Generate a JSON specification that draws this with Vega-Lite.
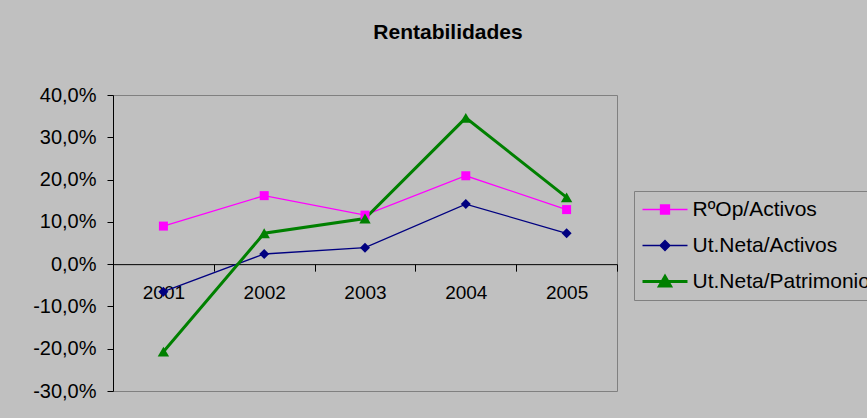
{
  "$schema": "https://vega.github.io/schema/vega-lite/v6.json",
  "autosize": "none",
  "width": 504,
  "height": 296,
  "padding": {"left": 113, "top": 95, "right": 250, "bottom": 27},
  "background": "#c0c0c0",
  "title": {
    "text": "Rentabilidades",
    "font": "Liberation Sans",
    "fontSize": 21,
    "fontWeight": "bold",
    "color": "#000000",
    "anchor": "middle",
    "frame": "group",
    "dx": 83,
    "baseline": "alphabetic",
    "offset": 25
  },
  "data": {
    "values": [
      {"year": "2001", "serie": "RºOp/Activos", "value": 0.090},
      {"year": "2002", "serie": "RºOp/Activos", "value": 0.162},
      {"year": "2003", "serie": "RºOp/Activos", "value": 0.116},
      {"year": "2004", "serie": "RºOp/Activos", "value": 0.209},
      {"year": "2005", "serie": "RºOp/Activos", "value": 0.129},
      {"year": "2001", "serie": "Ut.Neta/Activos", "value": -0.065},
      {"year": "2002", "serie": "Ut.Neta/Activos", "value": 0.024},
      {"year": "2003", "serie": "Ut.Neta/Activos", "value": 0.039},
      {"year": "2004", "serie": "Ut.Neta/Activos", "value": 0.142},
      {"year": "2005", "serie": "Ut.Neta/Activos", "value": 0.073},
      {"year": "2001", "serie": "Ut.Neta/Patrimonio", "value": -0.207},
      {"year": "2002", "serie": "Ut.Neta/Patrimonio", "value": 0.073},
      {"year": "2003", "serie": "Ut.Neta/Patrimonio", "value": 0.108},
      {"year": "2004", "serie": "Ut.Neta/Patrimonio", "value": 0.346},
      {"year": "2005", "serie": "Ut.Neta/Patrimonio", "value": 0.158}
    ]
  },
  "encoding": {
    "x": {
      "field": "year",
      "type": "ordinal",
      "scale": {"type": "band", "paddingInner": 0, "paddingOuter": 0},
      "axis": {
        "title": null,
        "orient": "bottom",
        "offset": -126.857,
        "domainColor": "#000000",
        "domainWidth": 1,
        "tickColor": "#000000",
        "tickSize": 7,
        "tickBand": "extent",
        "labelAngle": 0,
        "labelPadding": 12,
        "labelFont": "Liberation Sans",
        "labelFontSize": 19,
        "labelColor": "#000000",
        "grid": false
      }
    },
    "y": {
      "field": "value",
      "type": "quantitative",
      "scale": {"domain": [-0.3, 0.4], "nice": false, "zero": false},
      "axis": {
        "title": null,
        "values": [-0.3, -0.2, -0.1, 0, 0.1, 0.2, 0.3, 0.4],
        "labelExpr": "replace(replace(format(datum.value, '.1%'), '.', ','), '\u2212', '-')",
        "domainColor": "#000000",
        "tickColor": "#000000",
        "tickSize": 6,
        "labelPadding": 11,
        "labelFont": "Liberation Sans",
        "labelFontSize": 20,
        "labelColor": "#000000",
        "grid": false
      }
    },
    "color": {
      "field": "serie",
      "type": "nominal",
      "scale": {
        "domain": ["RºOp/Activos", "Ut.Neta/Activos", "Ut.Neta/Patrimonio"],
        "range": ["#FF00FF", "#000080", "#008000"]
      },
      "legend": {
        "title": null,
        "orient": "none",
        "legendX": 521,
        "legendY": 96,
        "padding": 8,
        "strokeColor": "#808080",
        "fillColor": "#c0c0c0",
        "cornerRadius": 0,
        "labelFont": "Liberation Sans",
        "labelFontSize": 21,
        "labelColor": "#000000",
        "labelLimit": 400,
        "symbolSize": 400,
        "symbolOffset": 12.5,
        "labelOffset": 17,
        "rowPadding": 14,
        "encode": {
          "symbols": {
            "update": {
              "shape": {"signal": "datum.value == 'RºOp/Activos' ? 'M-2.25,0H2.25M-0.45,-0.45H0.45V0.45H-0.45Z' : datum.value == 'Ut.Neta/Activos' ? 'M-2.25,0H2.25M0,-0.5L0.5,0L0,0.5L-0.5,0Z' : 'M-2.25,0H2.25M0,-0.5L0.55,0.45H-0.55Z'"},
              "size": {"value": 400},
              "fill": {"scale": "color", "field": "value"},
              "stroke": {"scale": "color", "field": "value"},
              "strokeWidth": {"signal": "datum.value == 'Ut.Neta/Patrimonio' ? 3 : 1.3"},
              "opacity": {"value": 1},
              "fillOpacity": {"value": 1},
              "strokeOpacity": {"value": 1}
            }
          }
        }
      }
    }
  },
  "layer": [
    {
      "transform": [{"filter": "datum.serie != 'Ut.Neta/Patrimonio'"}],
      "mark": {"type": "line", "strokeWidth": 1.3}
    },
    {
      "transform": [{"filter": "datum.serie == 'Ut.Neta/Patrimonio'"}],
      "mark": {"type": "line", "strokeWidth": 3}
    },
    {
      "transform": [{"filter": "datum.serie == 'RºOp/Activos'"}],
      "mark": {"type": "point", "shape": "square", "size": 81, "filled": true, "opacity": 1}
    },
    {
      "transform": [{"filter": "datum.serie == 'Ut.Neta/Activos'"}],
      "mark": {"type": "point", "shape": "diamond", "size": 100, "filled": true, "opacity": 1}
    },
    {
      "transform": [{"filter": "datum.serie == 'Ut.Neta/Patrimonio'"}],
      "mark": {"type": "point", "shape": "triangle-up", "size": 130, "filled": true, "opacity": 1}
    }
  ],
  "config": {
    "font": "Liberation Sans",
    "view": {"stroke": "#808080", "strokeWidth": 1}
  }
}
